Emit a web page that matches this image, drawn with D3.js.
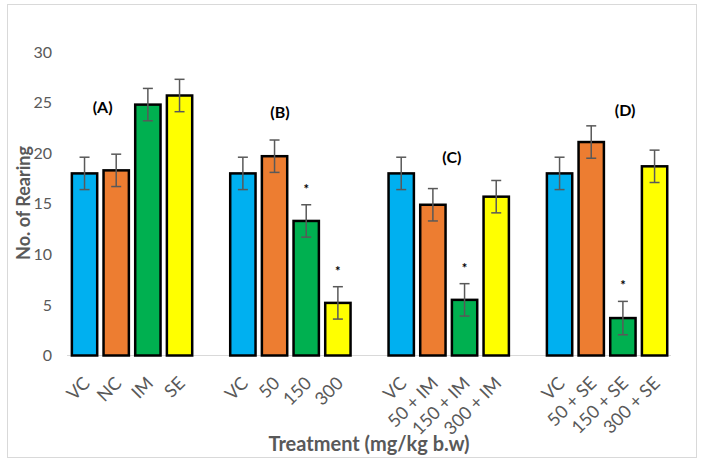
<!DOCTYPE html>
<html><head><meta charset="utf-8">
<script src="https://cdn.jsdelivr.net/npm/d3@7"></script>
<style>body{margin:0;background:#fff;}svg{display:block;font-family:Lato,"Open Sans",sans-serif;}</style>
</head><body><svg id="c" width="702" height="464"></svg>
<script>
const categories = ["VC","NC","IM","SE","","VC","50","150","300","","VC","50 + IM","150 + IM","300 + IM","","VC","50 + SE","150 + SE","300 + SE"];
const values = [18,18.3,24.8,25.7,null,18,19.7,13.3,5.2,null,18,14.9,5.5,15.7,null,18,21.1,3.7,18.7];
const errors = [1.6,1.6,1.6,1.6,null,1.6,1.6,1.6,1.6,null,1.6,1.6,1.6,1.6,null,1.6,1.6,1.65,1.6];
const colorIdx = [0,1,2,3,null,0,1,2,3,null,0,1,2,3,null,0,1,2,3];
const significant = [0,0,0,0,0,0,0,1,1,0,0,0,1,0,0,0,0,1,0];
const palette = ["#00B0F0","#ED7D31","#00B050","#FFFF00"];
const groupLabels = ["(A)","(B)","(C)","(D)"];
// annotation anchor: [category slot offset, value]
const groupLabelAt = [[0.57,24.55],[6.17,24.06],[11.6,19.6],[17.07,24.26]];
const yTicks = [0,5,10,15,20,25,30];

const svg = d3.select("#c");
svg.append("rect").attr("x",7.5).attr("y",4.5).attr("width",689).attr("height",453)
  .attr("fill","#fff").attr("stroke","#D9D9D9").attr("stroke-width",1);

const x = d3.scaleBand().domain(d3.range(categories.length)).range([68.7,670.4]).paddingInner(0.2).paddingOuter(0.1);
const y = d3.scaleLinear().domain([0,30]).range([355.5,52]);
const cx = i => x(i)+x.bandwidth()/2;

// y tick labels
svg.append("g").selectAll("text").data(yTicks).join("text")
  .attr("x",52).attr("y",d=>y(d)).attr("dy","0.35em").attr("text-anchor","end")
  .attr("fill","#595959").attr("font-size",16).text(d=>d);

// axis line
svg.append("line").attr("x1",67).attr("x2",671).attr("y1",355.5).attr("y2",355.5)
  .attr("stroke","#D9D9D9").attr("stroke-width",1);

const idx = d3.range(categories.length).filter(i=>values[i]!==null);
// bars
svg.append("g").selectAll("rect").data(idx).join("rect")
  .attr("x",i=>x(i)).attr("width",x.bandwidth())
  .attr("y",i=>y(values[i])).attr("height",i=>y(0)-y(values[i]))
  .attr("fill",i=>palette[colorIdx[i]]).attr("stroke","#000").attr("stroke-width",2.5);

// error bars
const eg = svg.append("g").attr("stroke","#595959").attr("stroke-width",1.5);
idx.forEach(i=>{
  const c = cx(i);
  const t = y(values[i]+errors[i]), b = y(values[i]-errors[i]);
  eg.append("line").attr("x1",c).attr("x2",c).attr("y1",t).attr("y2",b);
  eg.append("line").attr("x1",c-5).attr("x2",c+5).attr("y1",t).attr("y2",t);
  eg.append("line").attr("x1",c-5).attr("x2",c+5).attr("y1",b).attr("y2",b);
});

// asterisks
svg.append("g").selectAll("text").data(idx.filter(i=>significant[i])).join("text")
  .attr("x",i=>cx(i)).attr("y",i=>y(values[i]+errors[i])-11)
  .attr("text-anchor","middle").attr("font-size",13).attr("font-weight","bold").attr("fill","#000").text("*");

// group labels
svg.append("g").selectAll("text").data(groupLabels).join("text")
  .attr("x",(d,i)=>cx(0)+x.step()*groupLabelAt[i][0])
  .attr("y",(d,i)=>y(groupLabelAt[i][1])).attr("dy","0.35em")
  .attr("text-anchor","middle").attr("font-size",16).attr("font-weight","bold").attr("fill","#000").text(d=>d);

// x tick labels
svg.append("g").selectAll("text").data(idx).join("text")
  .attr("transform",i=>`translate(${cx(i)+2},${380}) rotate(-45)`)
  .attr("text-anchor","end").attr("dy","0.35em")
  .attr("fill","#595959").attr("font-size",18).text(i=>categories[i]);

// axis titles
svg.append("text").attr("x",369).attr("y",451).attr("text-anchor","middle")
  .attr("font-size",20).attr("font-weight","bold").attr("fill","#595959").text("Treatment (mg/kg b.w)");
svg.append("text").attr("transform","translate(30,203) rotate(-90)").attr("text-anchor","middle")
  .attr("font-size",18).attr("font-weight","bold").attr("fill","#595959").text("No. of Rearing");
</script></body></html>
